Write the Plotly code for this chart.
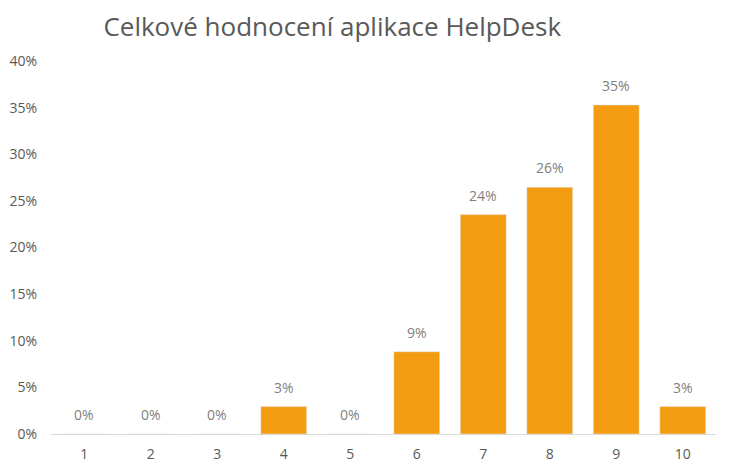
import plotly.graph_objects as go

# hodnoceni 1-10, podil odpovedi
categories = ["1", "2", "3", "4", "5", "6", "7", "8", "9", "10"]
shares = [0, 0, 0, 1/34, 0, 3/34, 8/34, 9/34, 12/34, 1/34]
labels = [f"{v:.0%}" for v in shares]
y_ticks = [0, 0.05, 0.10, 0.15, 0.20, 0.25, 0.30, 0.35, 0.40]

fig = go.Figure()
fig.add_trace(go.Bar(
    x=categories, y=shares,
    marker_color="#F39C12",
    hoverinfo="x+y",
))

# popisky hodnot nad sloupci (x = poradi kategorie, ciselne retezce by se jinak
# vykladaly jako index)
for i, (val, lab) in enumerate(zip(shares, labels)):
    fig.add_annotation(x=i, y=val, text=lab, showarrow=False,
                       yanchor="bottom", yshift=8,
                       font=dict(color="#7F7F7F", size=14))

# stranka ma 8px okraj, proto jsou okraje posunute
fig.update_layout(
    width=737, height=473,
    margin=dict(l=43, r=29, t=53, b=47),
    paper_bgcolor="white", plot_bgcolor="white",
    font=dict(family="Open Sans, Calibri, sans-serif", color="#595959", size=14),
    title=dict(text="Celkové hodnocení aplikace HelpDesk",
               x=0.44, xanchor="center", xref="container",
               y=0.96, yanchor="middle", yref="container",
               font=dict(size=26, color="#595959", family="Open Sans, sans-serif")),
    bargap=0.31,
    showlegend=False,
)
fig.update_xaxes(type="category", showline=True, linecolor="#D9D9D9", linewidth=1,
                 ticks="", showgrid=False, ticklabelstandoff=7, automargin=False)
fig.update_yaxes(range=[0, 0.40], tickvals=y_ticks, tickformat=".0%",
                 showgrid=False, zeroline=False, showline=False, ticks="",
                 ticklabelstandoff=13, automargin=False)

fig.write_html("out.html")
